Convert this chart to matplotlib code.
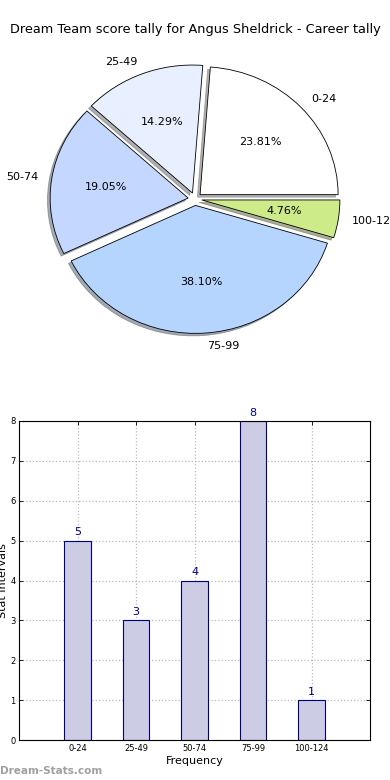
import matplotlib
matplotlib.use("Agg")
import matplotlib.pyplot as plt

categories = ["0-24", "25-49", "50-74", "75-99", "100-124"]
counts = [5, 3, 4, 8, 1]
pie_colors = ["#ffffff", "#e8f0ff", "#c4d8ff", "#b5d5ff", "#ceeb8a"]

fig = plt.figure(figsize=(3.9, 7.8), dpi=100)

fig.text(0.5, 1 - 30 / 780, "Dream Team score tally for Angus Sheldrick - Career tally",
         ha="center", va="center", fontsize=9.3)

ax1 = fig.add_axes([19 / 390, 1 - 359 / 780, 352 / 390, 320 / 780])
wedges, texts, autotexts = ax1.pie(
    counts, labels=categories, colors=pie_colors, explode=[0.05] * 5,
    autopct="%.2f%%", shadow=dict(ox=-0.014, oy=-0.014, shade=0.6), startangle=0,
    wedgeprops=dict(edgecolor="black", linewidth=0.6),
    textprops=dict(fontsize=8))
ax1.set_aspect("auto")
ax1.set_xlim(-1.275, 1.275)
ax1.set_ylim(-1.25, 1.25)

ax2 = fig.add_axes([19 / 390, 40 / 780, 351 / 390, 319 / 780])
x = list(range(len(categories)))
bars = ax2.bar(x, counts, width=0.45, color="#ccccE4", edgecolor="#000080", linewidth=0.8, zorder=2)
for xi, c in zip(x, counts):
    ax2.text(xi, c + 0.08, str(c), ha="center", va="bottom", fontsize=8, color="#000080")
ax2.set_xlim(-1, 5)
ax2.set_ylim(0, 8)
ax2.set_xticks(x)
ax2.set_xticklabels(categories, fontsize=6)
ax2.set_yticks(range(9))
ax2.set_yticklabels([str(i) for i in range(9)], fontsize=6)
ax2.tick_params(direction="in", length=3, top=True, right=True, width=0.6, pad=3)
ax2.tick_params(axis="y", pad=2.5)
ax2.grid(True, linestyle=":", color="#bbbbbb", linewidth=0.9, zorder=0)
ax2.set_axisbelow(True)
ax2.set_xlabel("Frequency", fontsize=8, labelpad=2)
ax2.set_ylabel("Stat Intervals", fontsize=8)
ax2.yaxis.set_label_coords(-0.03, 0.5)

fig.text(0.0, 1 - 771 / 780, "Dream-Stats.com", ha="left", va="center",
         fontsize=7.5, color="#a0a0a0", fontweight="bold")

fig.savefig("out.png", dpi=100)
